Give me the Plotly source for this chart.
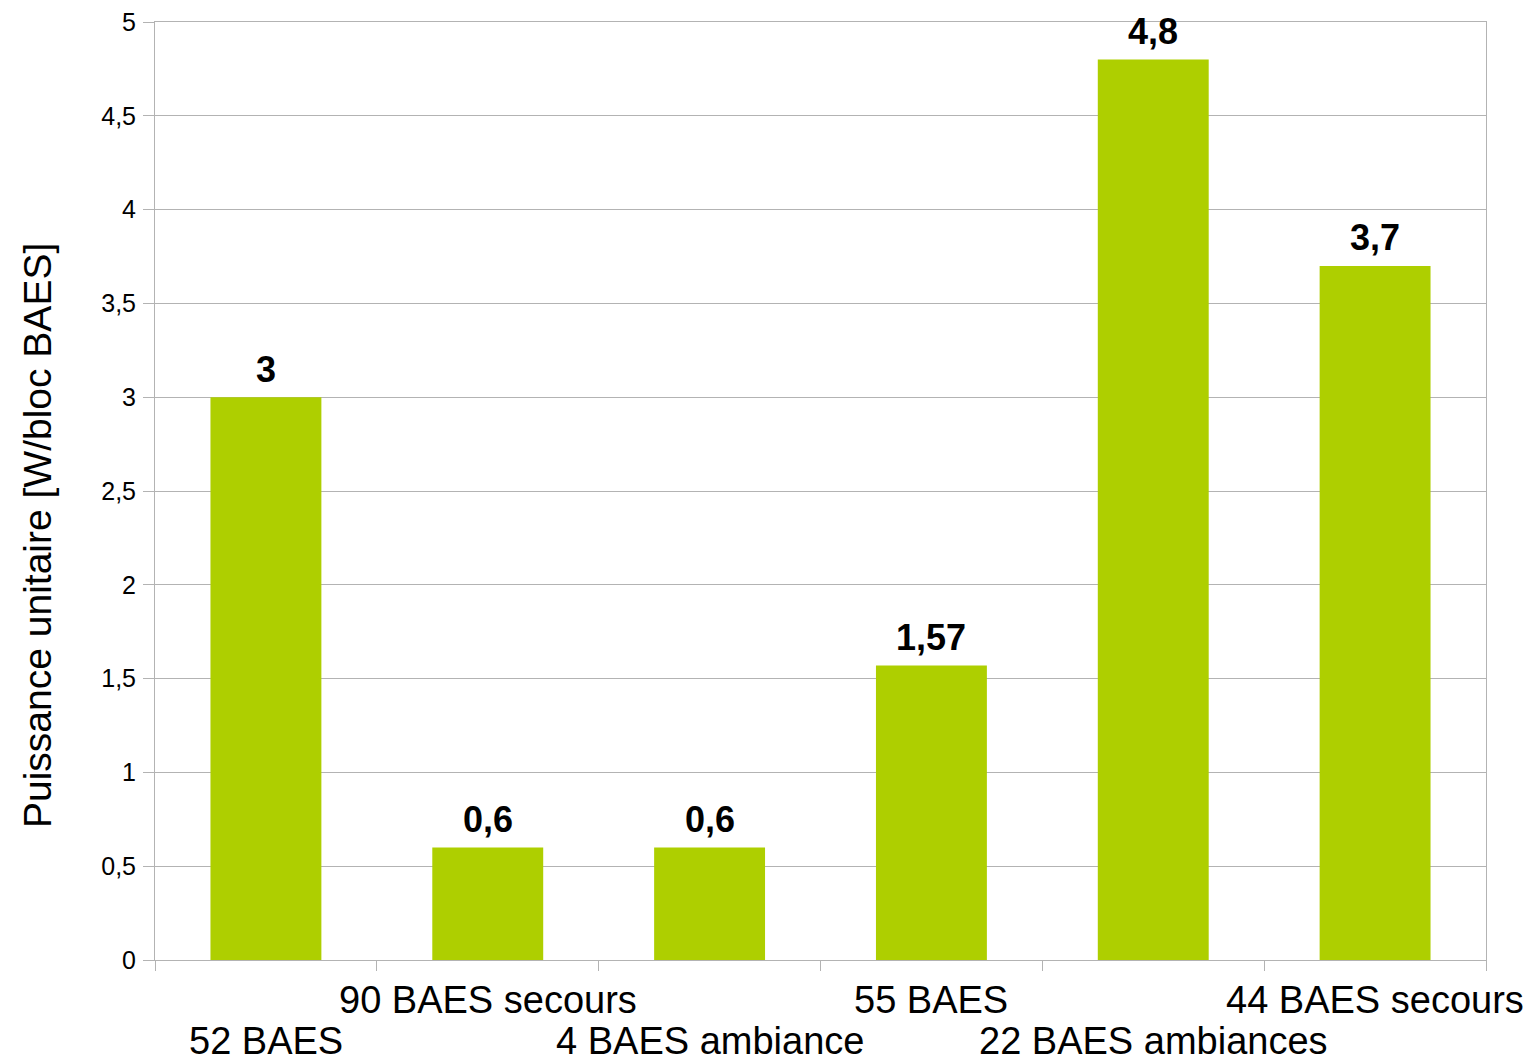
import plotly.graph_objects as go

categories = ["52 BAES", "90 BAES secours", "4 BAES ambiance", "55 BAES",
              "22 BAES ambiances", "44 BAES secours"]
values = [3, 0.6, 0.6, 1.57, 4.8, 3.7]
value_labels = ["3", "0,6", "0,6", "1,57", "4,8", "3,7"]
label_rows = [2, 1, 2, 1, 2, 1]
y_title = "Puissance unitaire [W/bloc BAES]"

FONT = "Liberation Sans, Arial, sans-serif"
GRID = "#b3b3b3"

fig = go.Figure()
fig.add_trace(go.Bar(
    x=categories, y=values, marker_color="#aecf00",
    marker_line_width=0, width=0.5, hoverinfo="skip",
))

annotations = []
for c, v, t in zip(categories, values, value_labels):
    annotations.append(dict(
        x=c, y=v, xref="x", yref="y", text=t, showarrow=False,
        yanchor="middle", yshift=28,
        font=dict(family=FONT, size=36, color="black", weight="bold"),
    ))
for c, r in zip(categories, label_rows):
    annotations.append(dict(
        x=c, y=0, xref="x", yref="paper", text=c, showarrow=False,
        yanchor="middle", yshift=-40 if r == 1 else -81,
        font=dict(family=FONT, size=38, color="black"),
    ))
annotations.append(dict(
    x=0, y=0.452, xref="paper", yref="paper", text=y_title, showarrow=False,
    textangle=-90, xanchor="center", yanchor="middle", xshift=-118,
    font=dict(family=FONT, size=39, color="black"),
))

fig.update_layout(
    width=1524, height=1050,
    margin=dict(l=147, r=46, t=14, b=98, autoexpand=False),
    plot_bgcolor="white", paper_bgcolor="white",
    separators=", ",
    showlegend=False,
    bargap=0.5,
    annotations=annotations,
    font=dict(family=FONT, color="black"),
    xaxis=dict(
        type="category", range=[-0.5, len(categories) - 0.5],
        tickson="boundaries", ticks="outside", ticklen=10,
        tickcolor=GRID, tickwidth=1, showticklabels=False, showgrid=False,
        showline=True, linecolor=GRID, linewidth=1, mirror=True,
        automargin=False, fixedrange=True,
    ),
    yaxis=dict(
        range=[0, 5], dtick=0.5, tick0=0, ticks="outside", ticklen=11,
        tickcolor=GRID, tickwidth=1, showgrid=True, gridcolor=GRID, gridwidth=1,
        showline=True, linecolor=GRID, linewidth=1, mirror=True,
        zeroline=False, tickfont=dict(family=FONT, size=25, color="black"),
        ticklabelstandoff=2, ticklabeloverflow="allow",
        automargin=False, fixedrange=True,
    ),
)

fig.write_html("out.html")
